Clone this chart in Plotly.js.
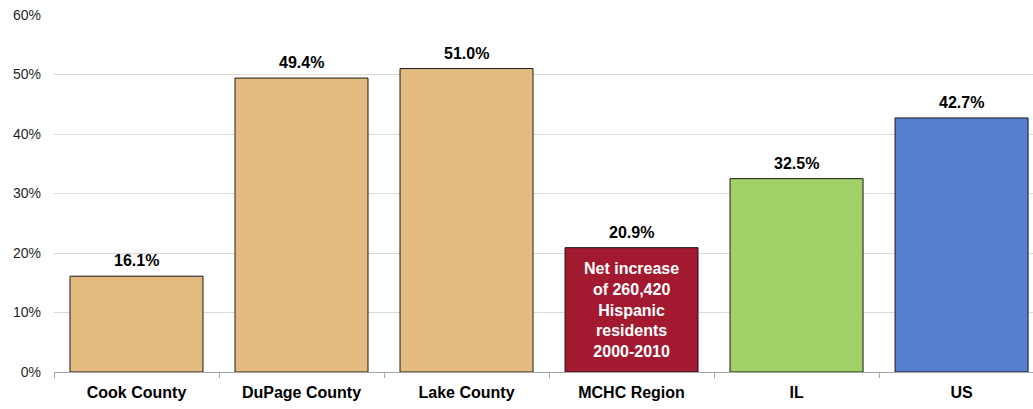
<!DOCTYPE html>
<html>
<head>
<meta charset="utf-8">
<script src="https://cdn.plot.ly/plotly-3.0.1.min.js"></script>
<style>html,body{margin:0;padding:0;background:#fff;overflow:hidden;}#chart{width:1033px;height:409px;}</style>
</head>
<body>
<div id="chart"></div>
<script>
const categories = ["Cook County", "DuPage County", "Lake County", "MCHC Region", "IL", "US"];
const values = [16.1, 49.4, 51.0, 20.9, 32.5, 42.7];
const valueLabels = ["16.1%", "49.4%", "51.0%", "20.9%", "32.5%", "42.7%"];
const barColors = ["#E4BB7F", "#E4BB7F", "#E4BB7F", "#A31A30", "#A2D168", "#5580CF"];
const noteText = "Net increase<br>of 260,420<br>Hispanic<br>residents<br>2000-2010";
const noteCategory = "MCHC Region";
const noteY = 10.4;
const tickVals = [0, 10, 20, 30, 40, 50, 60];
const tickText = ["0%", "10%", "20%", "30%", "40%", "50%", "60%"];

const boldFont = "'Liberation Sans', Arial, sans-serif";

const trace = {
  type: "bar",
  x: categories,
  y: values,
  marker: {color: barColors, line: {color: "#1a1a1a", width: 1}},
  hoverinfo: "skip"
};

const annotations = categories.map((c, i) => ({
  x: c, y: values[i], xref: "x", yref: "y",
  text: valueLabels[i], showarrow: false,
  yanchor: "bottom", yshift: 5,
  font: {family: boldFont, size: 16, color: "#000", weight: "bold"}
}));
annotations.push({
  x: noteCategory, y: noteY, xref: "x", yref: "y",
  text: noteText, showarrow: false, align: "center",
  font: {family: boldFont, size: 16, color: "#fff", weight: "bold"}
});

const layout = {
  width: 1033, height: 409,
  margin: {l: 54, r: 0, t: 15, b: 37},
  paper_bgcolor: "#fff", plot_bgcolor: "#fff",
  bargap: 0.194,
  showlegend: false,
  xaxis: {
    type: "category",
    range: [-0.5, 5.433],
    showgrid: false,
    showline: true, linecolor: "#a6a6a6", linewidth: 1,
    ticks: "outside", tickson: "boundaries", ticklen: 5, tickcolor: "#a6a6a6",
    ticklabelstandoff: 6,
    tickfont: {family: boldFont, size: 16, color: "#000", weight: "bold"},
    fixedrange: true
  },
  yaxis: {
    range: [0, 60],
    tickvals: tickVals, ticktext: tickText,
    showgrid: true, gridcolor: "#d9d9d9", gridwidth: 1,
    zeroline: false, showline: false,
    ticks: "", ticklabelstandoff: 12,
    tickfont: {family: "'Liberation Sans', Arial, sans-serif", size: 14, color: "#1f1f1f"},
    fixedrange: true
  },
  annotations: annotations
};

Plotly.newPlot("chart", [trace], layout, {displayModeBar: false, staticPlot: true});
</script>
</body>
</html>
